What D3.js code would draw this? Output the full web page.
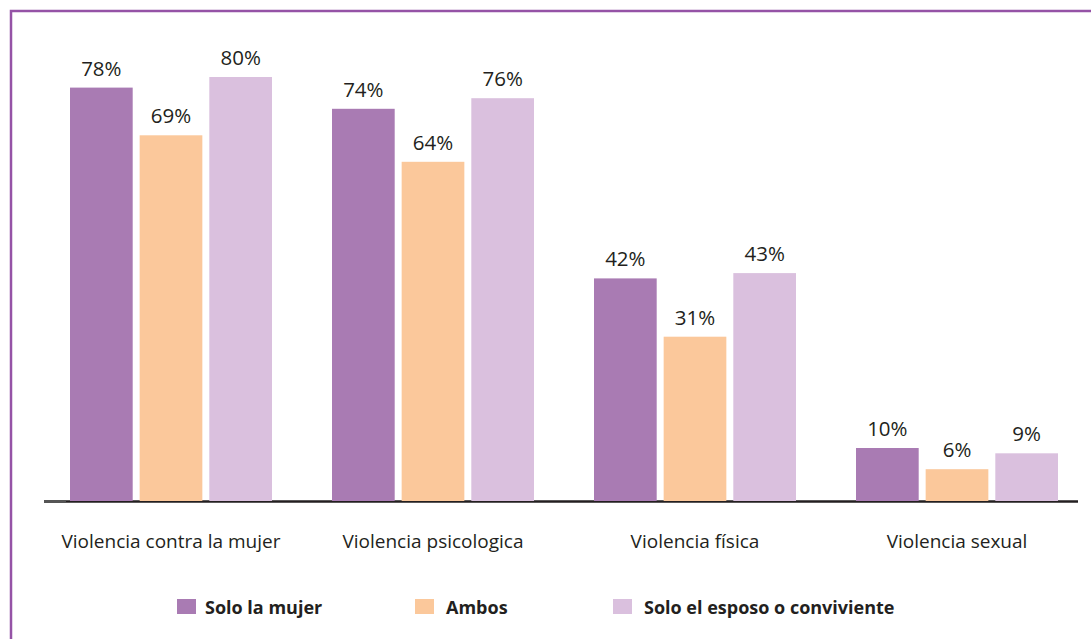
<!DOCTYPE html>
<html>
<head>
<meta charset="utf-8">
<script src="https://cdn.jsdelivr.net/npm/d3@7"></script>
<style>
  body { margin: 0; background: #fff; }
  svg { display: block; font-family: "Open Sans", "Noto Sans", sans-serif; }
</style>
</head>
<body>
<svg id="chart" width="1091" height="639"></svg>
<script>
// data
const categories = ["Violencia contra la mujer", "Violencia psicologica", "Violencia física", "Violencia sexual"];
const seriesNames = ["Solo la mujer", "Ambos", "Solo el esposo o conviviente"];
const soloMujer = [78, 74, 42, 10];
const ambos = [69, 64, 31, 6];
const soloEsposo = [80, 76, 43, 9];
const colors = ["#a97bb3", "#fbc89b", "#dac0de"];

const svg = d3.select("#chart");
const width = +svg.attr("width");
const height = +svg.attr("height");

// purple frame (left and top edges)
svg.append("path")
  .attr("d", `M11,${height} L11,11 L${width},11`)
  .attr("fill", "none")
  .attr("stroke", "#9553a6")
  .attr("stroke-width", 2.5);

const baseY = 501;

const x0 = d3.scaleBand()
  .domain(categories)
  .range([40, 1088])
  .paddingInner(0)
  .paddingOuter(0);

const x1 = d3.scaleBand()
  .domain(seriesNames)
  .range([30, 232])
  .paddingInner(0.1);

const y = d3.scaleLinear()
  .domain([0, 100])
  .range([baseY, baseY - 530]);

const series = [soloMujer, ambos, soloEsposo];

// baseline
svg.append("line")
  .attr("x1", 44).attr("x2", 1078)
  .attr("y1", baseY + 0.5).attr("y2", baseY + 0.5)
  .attr("stroke", "#231f20")
  .attr("stroke-width", 2.5);
svg.append("line")
  .attr("x1", 44).attr("x2", 66)
  .attr("y1", baseY + 0.5).attr("y2", baseY + 0.5)
  .attr("stroke", "#555")
  .attr("stroke-width", 2.5);

const groups = svg.selectAll("g.group")
  .data(categories)
  .enter()
  .append("g")
  .attr("class", "group")
  .attr("transform", d => `translate(${x0(d)},0)`);

groups.selectAll("rect")
  .data((c, i) => seriesNames.map((s, j) => ({ s, v: series[j][i], j })))
  .enter()
  .append("rect")
  .attr("x", d => x1(d.s))
  .attr("width", x1.bandwidth())
  .attr("y", d => y(d.v))
  .attr("height", d => baseY - y(d.v))
  .attr("fill", d => colors[d.j]);

groups.selectAll("text.val")
  .data((c, i) => seriesNames.map((s, j) => ({ s, v: series[j][i], j })))
  .enter()
  .append("text")
  .attr("class", "val")
  .attr("x", d => x1(d.s) + x1.bandwidth() / 2)
  .attr("y", d => y(d.v) - 12)
  .attr("text-anchor", "middle")
  .style("font-size", "20.5px")
  .style("fill", "#231f20")
  .text(d => d.v + "%");

// category labels
groups.append("text")
  .attr("x", x0.bandwidth() / 2 + 0)
  .attr("y", 548)
  .attr("text-anchor", "middle")
  .style("font-size", "19px")
  .style("fill", "#231f20")
  .text(d => d);

// legend
const legendX = [177, 415, 613];
const legend = svg.selectAll("g.legend")
  .data(seriesNames)
  .enter()
  .append("g")
  .attr("class", "legend")
  .attr("transform", (d, i) => `translate(${legendX[i]},599)`);

legend.append("rect")
  .attr("width", 19)
  .attr("height", 15)
  .attr("fill", (d, i) => colors[i]);

legend.append("text")
  .attr("x", (d, i) => i === 0 ? 28 : 31)
  .attr("y", 15)
  .style("font-size", "18px")
  .style("font-weight", "bold")
  .style("fill", "#231f20")
  .text(d => d);
</script>
</body>
</html>
